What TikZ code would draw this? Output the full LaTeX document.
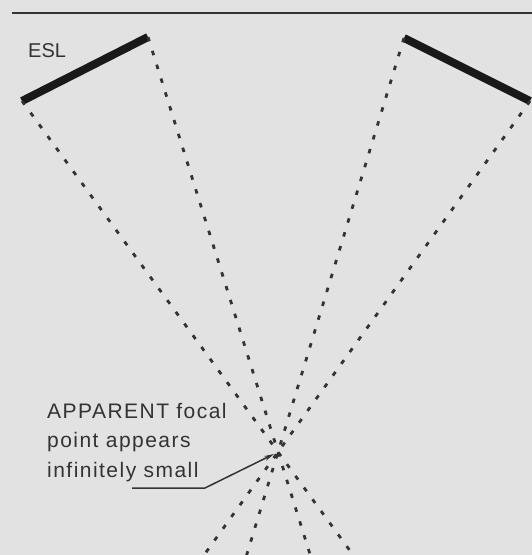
\documentclass[tikz,border=0pt]{standalone}
\usepackage{fontspec}
\setmainfont{Liberation Sans}
\usetikzlibrary{arrows.meta,calc,positioning}
\definecolor{paper}{gray}{0.885}
\definecolor{ink}{gray}{0.2}
\tikzset{
  panel/.style={line width=8pt, black!90},
  ray/.style={line width=2.8pt, ink, dash pattern=on 4.5pt off 10pt},
  lbl/.style={inner sep=0pt, text=ink,
    font=\fontsize{21}{29.5}\selectfont\addfontfeature{LetterSpace=7}}
}

\begin{document}
\begin{tikzpicture}[x=1pt, y=-1pt]
    % Hintergrund
    \fill[paper] (0,0) rectangle (532,555);
    \useasboundingbox (0,0) rectangle (532,555);

    % obere Linie
    \draw[line width=1.8pt, ink] (12,13) -- (532,13);

    % Lautsprecher
    \coordinate (la) at (22,101);
    \coordinate (lb) at (148,37);
    \coordinate (ra) at (404,38);
    \coordinate (rb) at (530,101);
    \draw[panel] (la) -- (lb);
    \draw[panel] (ra) -- (rb);
    \node[lbl, font=\fontsize{20}{24}\selectfont, anchor=base west] (esl) at (28,57) {ESL};

    % Strahlen durch den Brennpunkt
    \coordinate (focal) at (278,452);
    \begin{scope}
      \clip (0,0) rectangle (532,555);
      \draw[ray] (la) -- ($(la)!1.32!(focal)$);
      \draw[ray] (lb) -- ($(lb)!1.27!(focal)$);
      \draw[ray] (ra) -- ($(ra)!1.27!(focal)$);
      \draw[ray] (rb) -- ($(rb)!1.32!(focal)$);
    \end{scope}

    % Beschriftung
    \node[lbl, anchor=north west, align=left] (note) at (47,403)
      {APPARENT focal\\point appears\\infinitely small};
    \coordinate (lead) at (132,488);
    \draw[line width=1.5pt, ink, -{Stealth[length=10pt,width=5pt]}]
      (lead) -- (205,488) -- ($(focal)+(-4,2)$);
\end{tikzpicture}
\end{document}
